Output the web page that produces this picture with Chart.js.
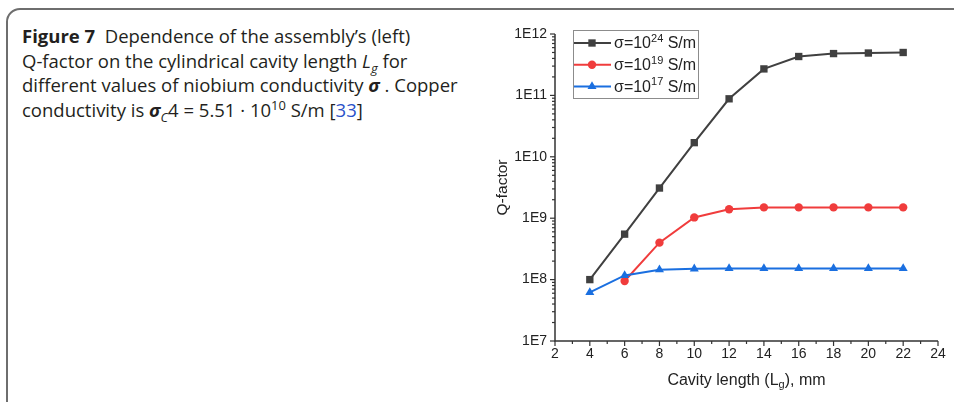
<!DOCTYPE html>
<html>
<head>
<meta charset="utf-8">
<script src="https://cdn.jsdelivr.net/npm/chart.js@4.4.0/dist/chart.umd.min.js"></script>
<style>
  body { margin: 0; width: 954px; height: 402px; background: #fff; overflow: hidden; position: relative; }
  .frame { position: absolute; left: 6px; top: 8px; width: 1000px; height: 420px; border: 2px solid #6e6e6e; border-radius: 14px; box-sizing: border-box; }
  .caption { position: absolute; left: 22px; top: 24px; font-family: "Open Sans", sans-serif; font-size: 18.5px; line-height: 24.5px; color: #231f20; white-space: nowrap; }
  .caption sub, .caption sup { font-size: 70%; line-height: 0; }
  .caption .ref { color: #2a52c9; }
  #wrap { position: absolute; left: 480px; top: 0; width: 474px; height: 402px; }
</style>
</head>
<body>
<div class="frame"></div>
<div class="caption"><b>Figure 7</b>&nbsp; Dependence of the assembly’s (left)<br>Q-factor on the cylindrical cavity length <i>L<sub>g</sub></i> for<br>different values of niobium conductivity <b><i>σ</i></b> . Copper<br>conductivity is <b><i>σ</i></b><sub><i>C</i></sub>4 = 5.51 · 10<sup>10</sup> S/m [<span class="ref">33</span>]</div>
<div id="wrap"><canvas id="chart"></canvas></div>
<script>
// Cavity length, mm
const lengths = [4, 6, 8, 10, 12, 14, 16, 18, 20, 22];

// Q-factor for each niobium conductivity (null = no point)
const q24 = [1.0e8, 5.5e8, 3.1e9, 1.7e10, 8.8e10, 2.7e11, 4.3e11, 4.8e11, 4.9e11, 5.0e11];
const q19 = [null, 9.5e7, 4.0e8, 1.03e9, 1.4e9, 1.5e9, 1.5e9, 1.5e9, 1.5e9, 1.5e9];
const q17 = [6.2e7, 1.17e8, 1.45e8, 1.5e8, 1.52e8, 1.52e8, 1.52e8, 1.52e8, 1.52e8, 1.52e8];

// legend exponent for each series, colours and markers
const seriesExp = ["24", "19", "17"];
const seriesColors = ["#404040", "#f03c3c", "#1a6fe0"];
const seriesMarkers = ["rect", "circle", "triangle"];

// axis ticks
const xTickValues = [2, 4, 6, 8, 10, 12, 14, 16, 18, 20, 22, 24];
const yTickValues = [1e7, 1e8, 1e9, 1e10, 1e11, 1e12];
const yTickLabels = ["1E7", "1E8", "1E9", "1E10", "1E11", "1E12"];

function toPoints(values) {
  return lengths
    .map((x, i) => ({ x: x, y: values[i] }))
    .filter((p) => p.y !== null);
}

const AXIS_COLOR = "#333333";
const TEXT_COLOR = "#222222";
const FONT = "Arial, 'Liberation Sans'";

/**
 * Axis lines, minor/major ticks, axis titles and boxed legend
 */
const decorPlugin = {
  id: "decor",
  afterDraw(chart) {
    const { ctx, chartArea: a, scales } = chart;
    const xs = scales.x;
    const ys = scales.y;
    ctx.save();
    ctx.strokeStyle = AXIS_COLOR;
    ctx.lineWidth = 1.5;

    // axis lines
    ctx.beginPath();
    ctx.moveTo(a.left, a.top);
    ctx.lineTo(a.left, a.bottom);
    ctx.lineTo(a.right, a.bottom);
    ctx.stroke();

    // x ticks: major every 2, minor in between
    ctx.lineWidth = 1.2;
    for (let v = xs.min; v <= xs.max; v++) {
      const px = xs.getPixelForValue(v);
      const len = v % 2 === 0 ? 5 : 3;
      ctx.beginPath();
      ctx.moveTo(px, a.bottom);
      ctx.lineTo(px, a.bottom + len);
      ctx.stroke();
    }

    // y ticks: decades major, 2..9 minor
    for (let d = 0; d < yTickValues.length; d++) {
      const base = yTickValues[d];
      for (let m = 1; m <= 9; m++) {
        const v = base * m;
        if (v > ys.max) break;
        const py = ys.getPixelForValue(v);
        const len = m === 1 ? 5 : 3;
        ctx.beginPath();
        ctx.moveTo(a.left, py);
        ctx.lineTo(a.left - len, py);
        ctx.stroke();
      }
    }

    // axis titles
    ctx.fillStyle = TEXT_COLOR;
    ctx.textBaseline = "middle";
    ctx.textAlign = "left";
    const xt1 = "Cavity length (L";
    const xt2 = "), mm";
    ctx.font = `16px ${FONT}`;
    const w1 = ctx.measureText(xt1).width;
    const w3 = ctx.measureText(xt2).width;
    ctx.font = `11px ${FONT}`;
    const w2 = ctx.measureText("g").width;
    const cx = (a.left + a.right) / 2;
    const ty = a.bottom + 40;
    let tx = cx - (w1 + w2 + w3) / 2;
    ctx.font = `16px ${FONT}`;
    ctx.fillText(xt1, tx, ty);
    tx += w1;
    ctx.font = `11px ${FONT}`;
    ctx.fillText("g", tx, ty + 4);
    tx += w2;
    ctx.font = `16px ${FONT}`;
    ctx.fillText(xt2, tx, ty);

    ctx.save();
    ctx.translate(a.left - 52, (a.top + a.bottom) / 2);
    ctx.rotate(-Math.PI / 2);
    ctx.textAlign = "center";
    ctx.font = `15.5px ${FONT}`;
    ctx.fillText("Q-factor", 0, 0);
    ctx.restore();

    // boxed legend
    const lx = a.left + 18;
    const ly = a.top - 4;
    const lw = 125;
    const lh = 68;
    ctx.fillStyle = "#ffffff";
    ctx.fillRect(lx, ly, lw, lh);
    ctx.strokeStyle = "#8c8c8c";
    ctx.lineWidth = 1;
    ctx.strokeRect(lx + 0.5, ly + 0.5, lw, lh);

    chart.data.datasets.forEach((ds, i) => {
      const rowY = ly + 13 + i * 21.7;
      ctx.strokeStyle = ds.borderColor;
      ctx.lineWidth = 2;
      ctx.beginPath();
      ctx.moveTo(lx + 1, rowY);
      ctx.lineTo(lx + 38, rowY);
      ctx.stroke();
      ctx.fillStyle = ds.borderColor;
      Chart.helpers.drawPoint(ctx, {
        pointStyle: ds.pointStyle,
        radius: ds.pointRadius,
        borderWidth: 0,
        rotation: 0,
      }, lx + 19, rowY);

      ctx.fillStyle = TEXT_COLOR;
      ctx.textAlign = "left";
      ctx.textBaseline = "middle";
      let px = lx + 41;
      ctx.font = `16px ${FONT}`;
      ctx.fillText("σ=10", px, rowY + 1);
      px += ctx.measureText("σ=10").width;
      ctx.font = `11px ${FONT}`;
      ctx.fillText(seriesExp[i], px, rowY - 4);
      px += ctx.measureText(seriesExp[i]).width;
      ctx.font = `16px ${FONT}`;
      ctx.fillText(" S/m", px, rowY + 1);
    });
    ctx.restore();
  },
};

function makeDataset(values, i) {
  return {
    label: `σ=10^${seriesExp[i]} S/m`,
    data: toPoints(values),
    borderColor: seriesColors[i],
    backgroundColor: seriesColors[i],
    borderWidth: 2,
    pointStyle: seriesMarkers[i],
    pointRadius: seriesMarkers[i] === "circle" ? 4.2 : 5.2,
    pointBorderWidth: 0,
    tension: 0,
    order: 3 - i,
  };
}

new Chart(document.getElementById("chart"), {
  type: "line",
  data: {
    datasets: [makeDataset(q24, 0), makeDataset(q19, 1), makeDataset(q17, 2)],
  },
  options: {
    responsive: true,
    maintainAspectRatio: false,
    animation: false,
    layout: {
      padding: { top: 34, right: 16, left: 0, bottom: 0 },
    },
    plugins: {
      legend: { display: false },
      tooltip: { enabled: false },
    },
    scales: {
      x: {
        type: "linear",
        min: 2,
        max: 24,
        afterBuildTicks: (scale) => {
          scale.ticks = xTickValues.map((v) => ({ value: v }));
        },
        afterFit: (scale) => {
          scale.height = 61;
        },
        ticks: {
          autoSkip: false,
          maxRotation: 0,
          padding: 5,
          color: TEXT_COLOR,
          font: { family: FONT, size: 14 },
        },
        grid: { display: false, drawTicks: false },
        border: { display: false },
      },
      y: {
        type: "logarithmic",
        min: 1e7,
        max: 1e12,
        afterBuildTicks: (scale) => {
          scale.ticks = yTickValues.map((v) => ({ value: v }));
        },
        afterFit: (scale) => {
          scale.width = 75;
        },
        ticks: {
          autoSkip: false,
          padding: 8,
          color: TEXT_COLOR,
          font: { family: FONT, size: 14 },
          callback: (value) => {
            const idx = yTickValues.indexOf(value);
            return idx >= 0 ? yTickLabels[idx] : "";
          },
        },
        grid: { display: false, drawTicks: false },
        border: { display: false },
      },
    },
  },
  plugins: [decorPlugin],
});
</script>
</body>
</html>
